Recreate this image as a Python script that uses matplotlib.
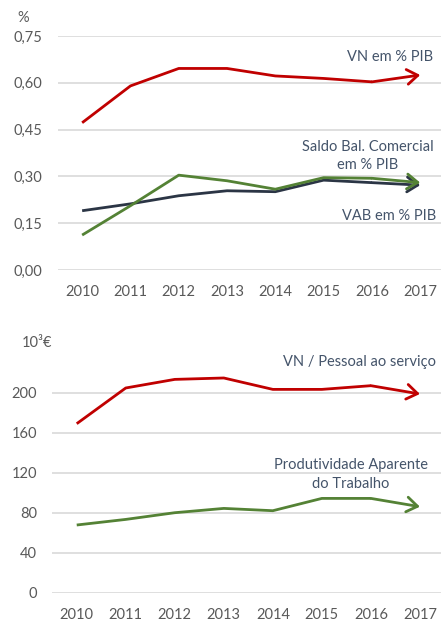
import matplotlib
matplotlib.use("Agg")
from matplotlib import pyplot as plt

plt.rcParams['font.family'] = ['Lato', 'DejaVu Sans']

anos = ['2010', '2011', '2012', '2013', '2014', '2015', '2016', '2017']

# painel de cima, em % do PIB
vn_pib = [0.472, 0.590, 0.646, 0.646, 0.622, 0.614, 0.603, 0.625]
saldo_pib = [0.112, 0.206, 0.304, 0.286, 0.259, 0.296, 0.294, 0.280]
vab_pib = [0.190, 0.212, 0.238, 0.254, 0.251, 0.288, 0.280, 0.272]

# painel de baixo, em 10^3 euros
vn_pessoal = [169, 204.7, 213.3, 214.7, 203.3, 203.3, 207, 198.7]
produtividade = [67.7, 73.3, 80, 84.3, 82, 94.3, 94.3, 86]
yt_top = [0.0, 0.15, 0.30, 0.45, 0.60, 0.75]
yt_bot = [0, 40, 80, 120, 160, 200]

RED = '#C00000'
GREEN = '#548235'
NAVY = '#2B3545'
TXT = '#44546A'
TICK = '#595959'
GRID = '#D9D9D9'
LW = 2.0

fig = plt.figure(figsize=(4.41, 6.23), dpi=100)
ax1 = fig.add_axes([0.1315, 0.5666, 0.8685, 0.3756])
ax2 = fig.add_axes([0.1184, 0.0486, 0.8816, 0.3853])

x = list(range(len(anos)))


def serie(ax, y, cor):
    # linha ate 2016 e seta aberta no ultimo troco
    ax.plot(x[:-1], y[:-1], color=cor, lw=LW, solid_capstyle='butt', zorder=3)
    ax.annotate('', xy=(x[-1], y[-1]), xytext=(x[-2], y[-2]),
                arrowprops=dict(arrowstyle='->,head_length=0.55,head_width=0.38',
                                color=cor, lw=LW, shrinkA=0, shrinkB=0,
                                mutation_scale=14), zorder=3)


def estilo(ax):
    for s in ax.spines.values():
        s.set_visible(False)
    ax.grid(axis='y', color=GRID, lw=1.2)
    ax.set_axisbelow(True)
    ax.tick_params(length=0, labelsize=10.5, labelcolor=TICK)
    ax.tick_params(axis='x', pad=11)
    ax.tick_params(axis='y', pad=11)
    ax.set_xticks(x)
    ax.set_xticklabels(anos)
    ax.set_xlim(-0.5, 7.43)


serie(ax1, vab_pib, NAVY)
serie(ax1, saldo_pib, GREEN)
serie(ax1, vn_pib, RED)
estilo(ax1)
ax1.set_ylim(0, 0.75)
ax1.set_yticks(yt_top)
ax1.set_yticklabels([('%.2f' % v).replace('.', ',') for v in yt_top])

serie(ax2, produtividade, GREEN)
serie(ax2, vn_pessoal, RED)
estilo(ax2)
ax2.set_ylim(0, 240)
ax2.set_yticks(yt_bot)
ax2.set_yticklabels([str(v) for v in yt_bot])

fs = 10.5
fig.text(23 / 441, 1 - 18 / 623, '%', fontsize=fs, color=TICK, ha='center', va='center')
fig.text(37 / 441, 1 - 342.7 / 623, '10³€', fontsize=fs, color=TICK, ha='center', va='center')

fig.text(433 / 441, 1 - 57 / 623, 'VN em % PIB', fontsize=fs, color=TXT, ha='right', va='center')
fig.text(368 / 441, 1 - 156 / 623, 'Saldo Bal. Comercial\nem % PIB', fontsize=fs, color=TXT,
         ha='center', va='center', linespacing=1.4)
fig.text(436 / 441, 1 - 216 / 623, 'VAB em % PIB', fontsize=fs, color=TXT, ha='right', va='center')
fig.text(436 / 441, 1 - 362 / 623, 'VN / Pessoal ao serviço', fontsize=fs, color=TXT,
         ha='right', va='center')
fig.text(351 / 441, 1 - 474.5 / 623, 'Produtividade Aparente\ndo Trabalho', fontsize=fs, color=TXT,
         ha='center', va='center', linespacing=1.4)

fig.savefig('out.png', dpi=100)
